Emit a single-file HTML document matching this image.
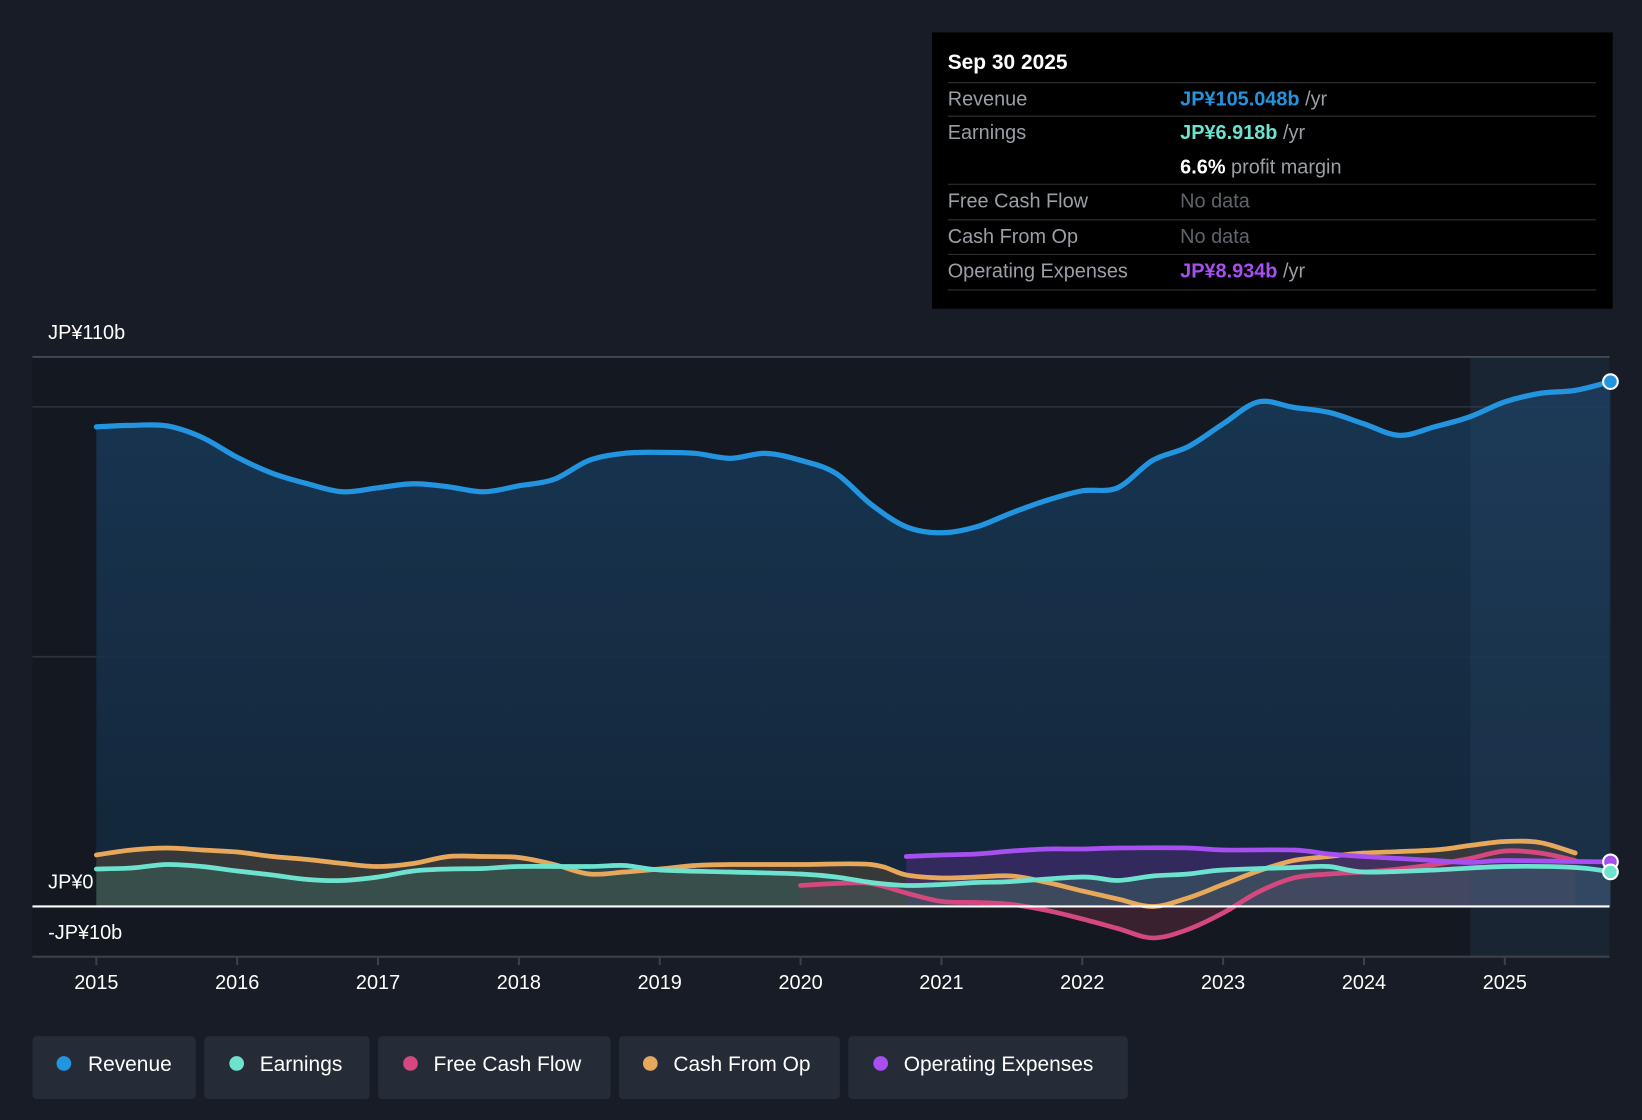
<!DOCTYPE html>
<html><head><meta charset="utf-8"><style>
html,body{margin:0;padding:0;background:#171c26;}
svg{display:block;font-family:"Liberation Sans",sans-serif;}
</style></head><body>
<svg id="chart" width="1642" height="1120" viewBox="0 0 1568 1070" preserveAspectRatio="none" xmlns="http://www.w3.org/2000/svg">
<defs>
<linearGradient id="revGrad" x1="0" y1="0" x2="0" y2="1">
<stop offset="0" stop-color="#183a5a"/><stop offset="1" stop-color="#14283c"/>
</linearGradient>
</defs>
<rect x="0" y="0" width="1568" height="1070" fill="#171c26"/>
<rect x="31" y="341" width="1506" height="573" fill="#131821"/>
<g id="grid"></g>
<g id="areas"></g>
<rect x="1404" y="341" width="133" height="573" fill="#2a4a6a" opacity="0.25"/>
<g id="lines"></g>
<line x1="31" x2="1537" y1="866" y2="866" stroke="#ffffff" stroke-width="2"/>
<line x1="31" x2="1537" y1="914" y2="914" stroke="#3a414c" stroke-width="2"/>
<g id="xticks"></g>
<text x="46" y="324" fill="#fff" font-size="19">JP¥110b</text>
<text x="46" y="849" fill="#fff" font-size="19">JP¥0</text>
<text x="46" y="897" fill="#fff" font-size="19">-JP¥10b</text>

<g>
<rect x="890" y="31" width="650" height="264" fill="#000"/>
<text x="905" y="66" fill="#fff" font-size="20" font-weight="bold">Sep 30 2025</text>
<line x1="905" x2="1524" y1="79" y2="79" stroke="#333"/>
<text x="905" y="101" fill="#9a9fa6" font-size="19">Revenue</text>
<text x="1127" y="101" font-size="19"><tspan fill="#2394df" font-weight="bold">JP¥105.048b</tspan><tspan fill="#9a9fa6"> /yr</tspan></text>
<line x1="905" x2="1524" y1="111" y2="111" stroke="#333"/>
<text x="905" y="133" fill="#9a9fa6" font-size="19">Earnings</text>
<text x="1127" y="133" font-size="19"><tspan fill="#6de3cf" font-weight="bold">JP¥6.918b</tspan><tspan fill="#9a9fa6"> /yr</tspan></text>
<text x="1127" y="166" font-size="19"><tspan fill="#fff" font-weight="bold">6.6%</tspan><tspan fill="#9a9fa6"> profit margin</tspan></text>
<line x1="905" x2="1524" y1="176" y2="176" stroke="#333"/>
<text x="905" y="198" fill="#9a9fa6" font-size="19">Free Cash Flow</text>
<text x="1127" y="198" fill="#5f646b" font-size="19">No data</text>
<line x1="905" x2="1524" y1="210" y2="210" stroke="#333"/>
<text x="905" y="232" fill="#9a9fa6" font-size="19">Cash From Op</text>
<text x="1127" y="232" fill="#5f646b" font-size="19">No data</text>
<line x1="905" x2="1524" y1="243" y2="243" stroke="#333"/>
<text x="905" y="265" fill="#9a9fa6" font-size="19">Operating Expenses</text>
<text x="1127" y="265" font-size="19"><tspan fill="#a74ff0" font-weight="bold">JP¥8.934b</tspan><tspan fill="#9a9fa6"> /yr</tspan></text>
<line x1="905" x2="1524" y1="277" y2="277" stroke="#333"/>
</g>

<g>
<g><rect x="31" y="990" width="156" height="60" rx="4" fill="#262c37"/><circle cx="61" cy="1016" r="7" fill="#2394df"/><text x="84" y="1023" fill="#fff" font-size="20">Revenue</text></g>
<g><rect x="195" y="990" width="158" height="60" rx="4" fill="#262c37"/><circle cx="226" cy="1016" r="7" fill="#6de3cf"/><text x="248" y="1023" fill="#fff" font-size="20">Earnings</text></g>
<g><rect x="361" y="990" width="222" height="60" rx="4" fill="#262c37"/><circle cx="392" cy="1016" r="7" fill="#d5487f"/><text x="414" y="1023" fill="#fff" font-size="20">Free Cash Flow</text></g>
<g><rect x="591" y="990" width="211" height="60" rx="4" fill="#262c37"/><circle cx="621" cy="1016" r="7" fill="#e8a85c"/><text x="643" y="1023" fill="#fff" font-size="20">Cash From Op</text></g>
<g><rect x="810" y="990" width="267" height="60" rx="4" fill="#262c37"/><circle cx="841" cy="1016" r="7" fill="#a74ff0"/><text x="863" y="1023" fill="#fff" font-size="20">Operating Expenses</text></g>
</g>
</svg>
<script>
const years = [2015,2016,2017,2018,2019,2020,2021,2022,2023,2024,2025];
const gridValues = [100,50];
const revT = [2015,2015.25,2015.5,2015.75,2016,2016.25,2016.5,2016.75,2017,2017.25,2017.5,2017.75,2018,2018.25,2018.5,2018.75,2019,2019.25,2019.5,2019.75,2020,2020.25,2020.5,2020.75,2021,2021.25,2021.5,2021.75,2022,2022.25,2022.5,2022.75,2023,2023.25,2023.5,2023.75,2024,2024.25,2024.5,2024.75,2025,2025.25,2025.5,2025.75];
const revV = [96,96.3,96.2,93.9,89.9,86.7,84.6,83,83.8,84.6,84,83,84.2,85.5,89.3,90.7,90.9,90.7,89.7,90.7,89.3,86.7,80.5,76,74.8,76,78.8,81.3,83.2,83.8,89.3,92,96.6,101,99.9,98.9,96.6,94.3,96,98,101,102.7,103.3,105.05];
const earnT = [2015,2015.25,2015.5,2015.75,2016,2016.25,2016.5,2016.75,2017,2017.25,2017.5,2017.75,2018,2018.5,2018.75,2019,2019.5,2020,2020.25,2020.5,2020.75,2021,2021.25,2021.5,2022,2022.25,2022.5,2022.75,2023,2023.5,2023.75,2024,2024.5,2025,2025.5,2025.75];
const earnV = [7.5,7.7,8.4,8,7.1,6.3,5.4,5.2,5.9,7.1,7.5,7.6,8,8,8.2,7.3,6.9,6.5,5.9,4.8,4.2,4.4,4.8,5,5.9,5.2,6.1,6.5,7.3,7.8,8,6.9,7.3,8,7.8,6.92];
const cfoT = [2015,2015.25,2015.5,2015.75,2016,2016.25,2016.5,2016.75,2017,2017.25,2017.5,2017.75,2018,2018.25,2018.5,2018.75,2019,2019.25,2019.5,2020,2020.5,2020.75,2021,2021.25,2021.5,2021.75,2022,2022.25,2022.5,2022.75,2023,2023.25,2023.5,2023.75,2024,2024.5,2024.75,2025,2025.25,2025.5];
const cfoV = [10.3,11.3,11.7,11.3,10.9,10,9.4,8.6,8,8.6,10,10,9.8,8.4,6.5,6.9,7.5,8.2,8.4,8.4,8.4,6.3,5.7,5.9,6.1,4.8,3.1,1.5,0,1.7,4.4,7.1,9.2,10,10.7,11.3,12.2,13,12.8,10.7];
const fcfT = [2020,2020.25,2020.5,2020.75,2021,2021.25,2021.5,2021.75,2022,2022.25,2022.5,2022.75,2023,2023.25,2023.5,2023.75,2024,2024.25,2024.5,2024.75,2025,2025.25,2025.5];
const fcfV = [4.2,4.6,4.6,2.7,1,0.8,0.4,-0.8,-2.5,-4.4,-6.3,-4.6,-1.3,2.9,5.7,6.5,6.9,7.5,8.4,9.6,11.1,10.7,9.2];
const opexT = [2020.75,2021,2021.25,2021.5,2021.75,2022,2022.25,2022.75,2023,2023.5,2023.75,2024,2024.5,2024.75,2025,2025.5,2025.75];
const opexV = [10,10.3,10.5,11.1,11.5,11.5,11.7,11.7,11.3,11.3,10.5,10,9.2,8.8,9.2,9,8.93];

const NS="http://www.w3.org/2000/svg";
const X = t => 92 + (t-2015)*134.5;
const Y = v => 866 - v*4.773;
function pts(T,V){return T.map((t,i)=>[X(t),Y(V[i])]);}
function smooth(p){let d=`M${p[0][0]},${p[0][1]}`;for(let i=0;i<p.length-1;i++){const p0=p[i-1]||p[i],p1=p[i],p2=p[i+1],p3=p[i+2]||p2;const c1=[p1[0]+(p2[0]-p0[0])/6,p1[1]+(p2[1]-p0[1])/6],c2=[p2[0]-(p3[0]-p1[0])/6,p2[1]-(p3[1]-p1[1])/6];d+=`C${c1[0]},${c1[1]} ${c2[0]},${c2[1]} ${p2[0]},${p2[1]}`;}return d;}
const grid=document.getElementById('grid');
[110,...gridValues].forEach(v=>{const l=document.createElementNS(NS,'line');


l.setAttribute('x1',31);l.setAttribute('x2',1537);l.setAttribute('y1',Y(v));l.setAttribute('y2',Y(v));l.setAttribute('stroke',v==110?'#4a515c':'#2c333e');l.setAttribute('stroke-width',1.5);grid.appendChild(l);});
const xt=document.getElementById('xticks');
years.forEach(y=>{const l=document.createElementNS(NS,'line');


l.setAttribute('x1',X(y));l.setAttribute('x2',X(y));l.setAttribute('y1',914);l.setAttribute('y2',922);l.setAttribute('stroke','#3a414c');l.setAttribute('stroke-width',2);xt.appendChild(l);
const t=document.createElementNS(NS,'text');


t.setAttribute('x',X(y));t.setAttribute('y',945);t.setAttribute('text-anchor','middle');t.setAttribute('fill','#fff');t.setAttribute('font-size','19');t.textContent=y;xt.appendChild(t);});
const series=[
 ['revenue',revT,revV,'#2394df','url(#revGrad)',0.85],
 ['cash-from-op',cfoT,cfoV,'#e8a85c','#5a4a38',0.5],
 ['free-cash-flow',fcfT,fcfV,'#d5487f','#5a2a3e',0.55],
 ['operating-expenses',opexT,opexV,'#a74ff0','#4a2c7a',0.55],
 ['earnings',earnT,earnV,'#6de3cf','#3a6a62',0.45]];
const A=document.getElementById('areas'),L=document.getElementById('lines');
series.forEach(([n,T,V,c,f,o])=>{const p=pts(T,V);const d=smooth(p);
const a=document.createElementNS(NS,'path');


a.setAttribute('d',d+`L${p[p.length-1][0]},866L${p[0][0]},866Z`);a.setAttribute('fill',f);a.setAttribute('opacity',o);A.appendChild(a);
const l=document.createElementNS(NS,'path');


l.setAttribute('d',d);l.setAttribute('fill','none');l.setAttribute('stroke',c);l.setAttribute('stroke-width',n=='revenue'?5:4.5);l.setAttribute('stroke-linecap','round');L.appendChild(l);
if(T[T.length-1]>=2025.75){const e=document.createElementNS(NS,'circle');


e.setAttribute('cx',p[p.length-1][0]);e.setAttribute('cy',p[p.length-1][1]);e.setAttribute('r',7);e.setAttribute('fill',c);e.setAttribute('stroke','#fff');e.setAttribute('stroke-width',2);L.appendChild(e);}
});
</script>
</body></html>
